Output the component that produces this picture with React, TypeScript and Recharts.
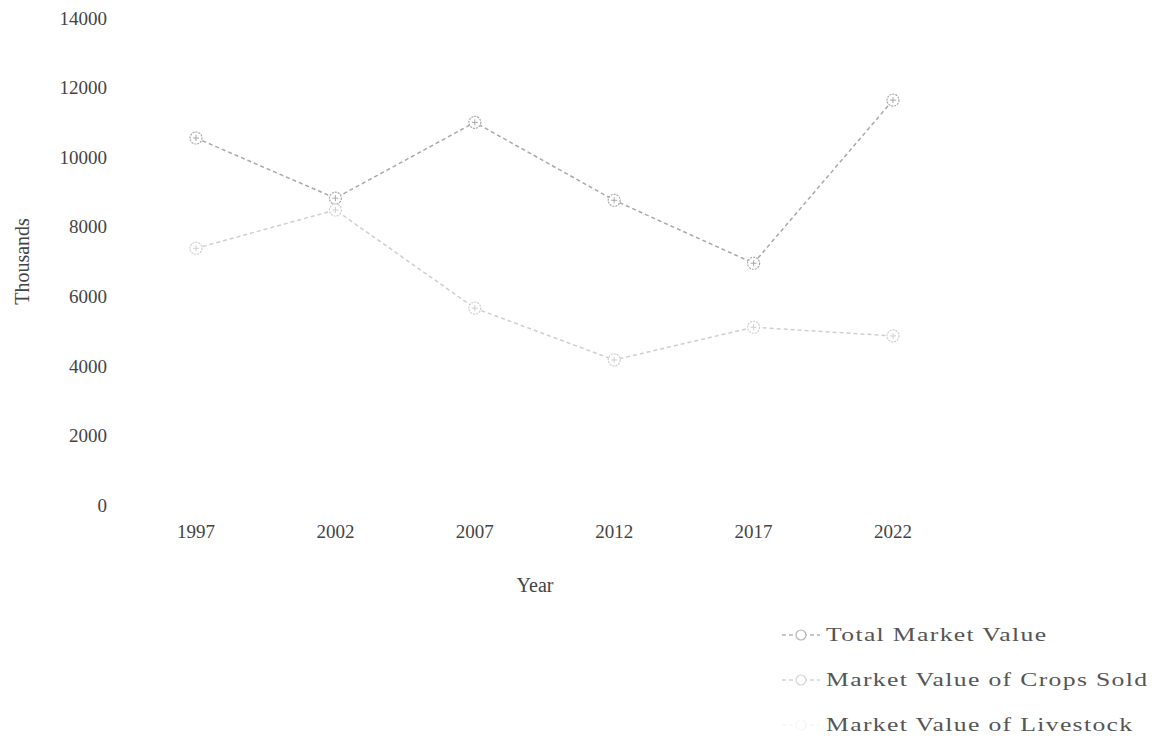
import { Line, LineChart, XAxis, YAxis, Legend } from 'recharts';

const years = ['1997', '2002', '2007', '2012', '2017', '2022'];
const totalValue = [10550, 8820, 11000, 8760, 6950, 11640];
const cropsValue = [7380, 8480, 5660, 4170, 5110, 4860];
const yTicks = [0, 2000, 4000, 6000, 8000, 10000, 12000, 14000];
const seriesNames = ['Total Market Value', 'Market Value of Crops Sold', 'Market Value of Livestock'];

const data = years.map((year, i) => ({ year, total: totalValue[i], crops: cropsValue[i] }));

const FONT = '"Liberation Serif", "Times New Roman", serif';

function Marker(props: any) {
  const { cx, cy, stroke } = props;
  if (cx == null || cy == null) return null;
  return (
    <g>
      <circle cx={cx} cy={cy} r={6} fill="#fff" stroke={stroke} strokeWidth={1.2} strokeDasharray="2 1" />
      <path d={`M${cx - 3},${cy} L${cx + 3},${cy} M${cx},${cy - 3} L${cx},${cy + 3}`} stroke={stroke} strokeWidth={1} />
    </g>
  );
}

const legendColors = ['#b4b4b4', '#d4d4d4', '#f6f6f6'];

function LegendBox() {
  return (
    <div style={{ fontFamily: FONT, fontSize: 19, color: '#555', letterSpacing: 1 }}>
      {seriesNames.map((name, i) => (
        <div key={name} style={{ display: 'flex', alignItems: 'center', height: 45 }}>
          <svg width={42} height={16} style={{ marginRight: 4 }}>
            <line x1={2} y1={8} x2={40} y2={8} stroke={legendColors[i]} strokeWidth={1.5} strokeDasharray="4 3" />
            <circle cx={21} cy={8} r={5} fill="#fff" stroke={legendColors[i]} strokeWidth={1.2} />
          </svg>
          <span style={{ whiteSpace: 'nowrap', display: 'inline-block', transform: 'scaleX(1.35)', transformOrigin: 'left center' }}>
            {name}
          </span>
        </div>
      ))}
    </div>
  );
}

export default function App() {
  return (
    <div style={{ position: 'absolute', left: 0, top: 0, background: '#fff' }}>
      <LineChart width={1168} height={736} data={data} margin={{ top: 18, right: 213, bottom: 141, left: 5 }}>
        <XAxis
          dataKey="year"
          height={90}
          axisLine={false}
          tickLine={false}
          tickMargin={14}
          padding={{ left: 81, right: 62 }}
          tick={{ fontFamily: FONT, fontSize: 19, fill: '#444' }}
          label={{ value: 'Year', position: 'insideBottom', offset: 3, fontFamily: FONT, fontSize: 20, fill: '#444' }}
        />
        <YAxis
          width={110}
          domain={[0, 14000]}
          ticks={yTicks}
          interval={0}
          axisLine={false}
          tickLine={false}
          tick={{ fontFamily: FONT, fontSize: 19, fill: '#444' }}
          label={{ value: 'Thousands', angle: -90, position: 'insideLeft', offset: 17, textAnchor: 'middle', fontFamily: FONT, fontSize: 20, fill: '#444' }}
        />
        <Legend
          layout="vertical"
          align="center"
          verticalAlign="middle"
          wrapperStyle={{ left: 780, top: 612, width: 388 }}
          content={() => <LegendBox />}
        />
        <Line
          dataKey="total"
          name={seriesNames[0]}
          stroke="#a8a8a8"
          strokeWidth={1.5}
          strokeDasharray="4 3"
          dot={<Marker />}
          isAnimationActive={false}
        />
        <Line
          dataKey="crops"
          name={seriesNames[1]}
          stroke="#cfcfcf"
          strokeWidth={1.5}
          strokeDasharray="4 3"
          dot={<Marker />}
          isAnimationActive={false}
        />
      </LineChart>
    </div>
  );
}
